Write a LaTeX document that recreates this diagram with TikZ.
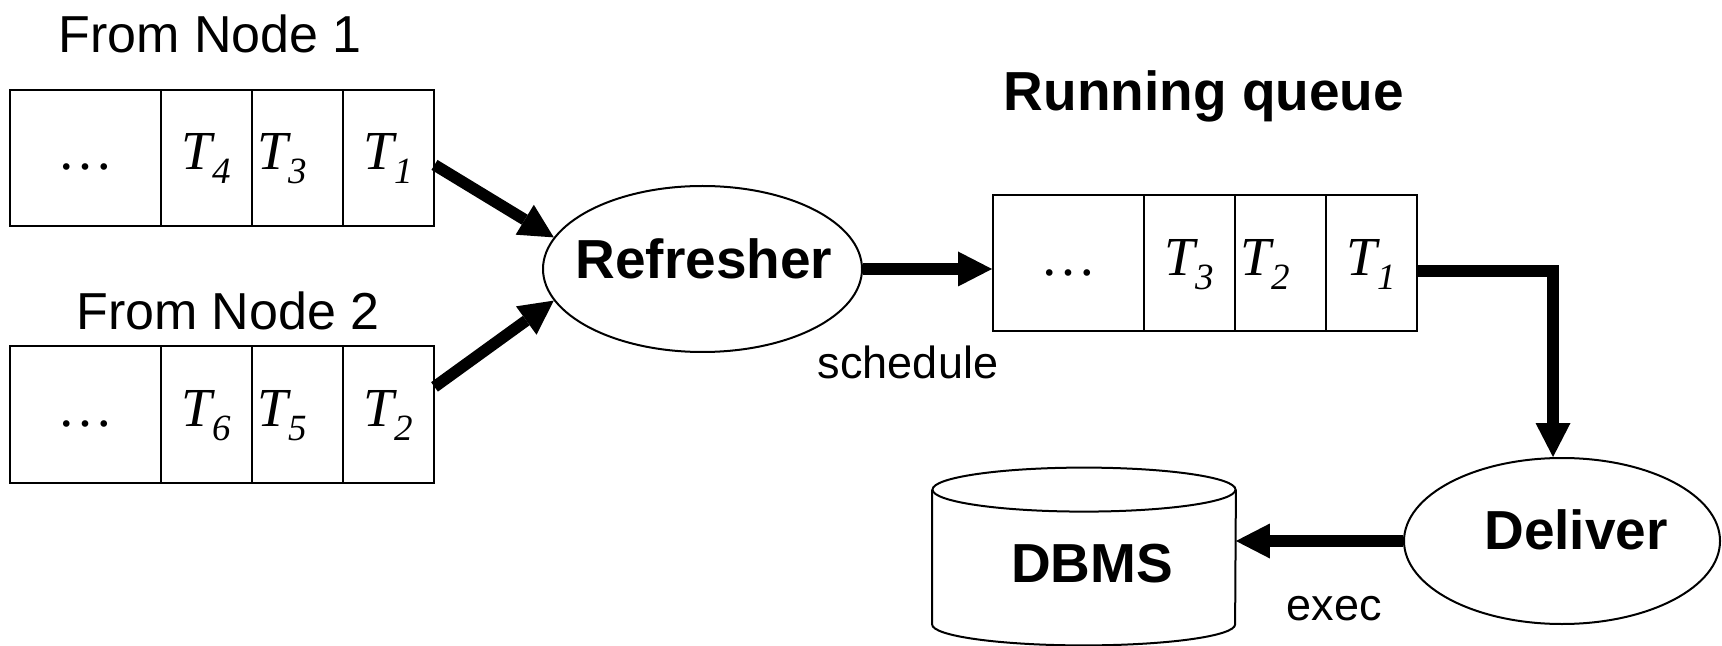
\documentclass[tikz,border=0pt]{standalone}
\usepackage{fontspec}
\setmainfont{Liberation Sans}
\newfontfamily\serifjob{Liberation Serif}
\usetikzlibrary{arrows.meta,shapes.geometric,calc}

% a transaction T_i set in italic Times-like type
\newcommand\job[1]{{\serifjob\itshape T\raisebox{-7pt}{\fontsize{18.5}{19}\selectfont #1}}}
% the ellipsis of the oldest, not yet shown entries
\newcommand\more{{\serifjob\fontsize{28}{30}\selectfont\char"2026}}

\begin{document}
\begin{tikzpicture}[x=0.5pt, y=-0.5pt,
  cell/.style={draw, line width=1pt, rectangle, inner xsep=3pt, inner ysep=0pt,
    minimum height=68pt, text height=17pt, text depth=5pt,
    font=\fontsize{27.5}{29}\selectfont},
  wide/.style={cell, minimum width=75.5pt},
  narrow/.style={cell, minimum width=45.5pt},
  leftcell/.style={narrow, text width=39.5pt, align=left},
  proc/.style={draw, line width=1pt, ellipse, inner sep=0pt,
    minimum width=159.5pt, minimum height=83pt},
  title/.style={inner sep=0pt, anchor=base, font=\fontsize{26}{30}\selectfont},
  boldtitle/.style={inner sep=0pt, anchor=base, font=\fontsize{27.5}{30}\selectfont\bfseries},
  boldname/.style={inner sep=0pt, anchor=base, font=\fontsize{27.5}{30}\selectfont\bfseries},
  note/.style={inner sep=0pt, anchor=base, font=\fontsize{22.5}{26}\selectfont},
  flow/.style={line width=5.8pt,
    -{Triangle[length=17pt, width=17.5pt, line width=0pt]}},
]
\useasboundingbox (0,0) rectangle (1722,646);

% incoming queue from node 1
\node[title] (from1) at (210,53) {From Node 1};
\node[wide]     (q1a) at (85.5,158) {\more};
\node[narrow]   (q1b) at (206,158)  {\job{4}};
\node[leftcell] (q1c) at (297,158)  {\job{3}};
\node[narrow]   (q1d) at (388,158)  {\job{1}};

% incoming queue from node 2
\node[title] (from2) at (228,329) {From Node 2};
\node[wide]     (q2a) at (85.5,414.5) {\more};
\node[narrow]   (q2b) at (206,414.5)  {\job{6}};
\node[leftcell] (q2c) at (297,414.5)  {\job{5}};
\node[narrow]   (q2d) at (388,414.5)  {\job{2}};

% refresher process
\node[proc] (ref) at (702.5,269) {};
\node[boldtitle] (reftxt) at (704,279) {Refresher};

% running queue
\node[boldtitle] (rqtitle) at (1204,111) {Running queue};
\node[wide]     (q3a) at (1068.5,263.5) {\more};
\node[narrow]   (q3b) at (1189,263.5)   {\job{3}};
\node[leftcell] (q3c) at (1280,263.5)   {\job{2}};
\node[narrow]   (q3d) at (1371,263.5)   {\job{1}};

% deliver process
\node[proc, minimum width=158pt] (del) at (1562,541) {};
\node[boldname] (deltxt) at (1576,549) {Deliver};

% database
\node[minimum width=151.5pt, minimum height=67pt, inner sep=0pt] (db) at (1084,557) {};
\draw[line width=1pt] (db.north west) -- (db.south west)
  arc[start angle=180, end angle=360, x radius=75.75pt, y radius=10.5pt]
  -- (db.north east);
\draw[line width=1pt] (db.north) ellipse[x radius=75.75pt, y radius=11pt];
\node[boldname] (dbtxt) at (1092,582) {DBMS};

% flows
\draw[flow] ($(q1d.north east)!0.55!(q1d.south east)$) -- (ref.168);
\draw[flow] ($(q2d.north east)!0.30!(q2d.south east)$) -- (ref.192);
\draw[flow] (ref.east) -- (q3a.west |- ref.east);
\node[note] (sched) at (908,379) {schedule};

\coordinate (bend) at (1553,271);
\draw[flow] (q3d.east |- bend) -- (bend) -- (bend |- del.north);

\draw[flow] (del.west) -- (db.east |- del.west);
\node[note] (exec) at (1334,620) {exec};
\end{tikzpicture}
\end{document}
